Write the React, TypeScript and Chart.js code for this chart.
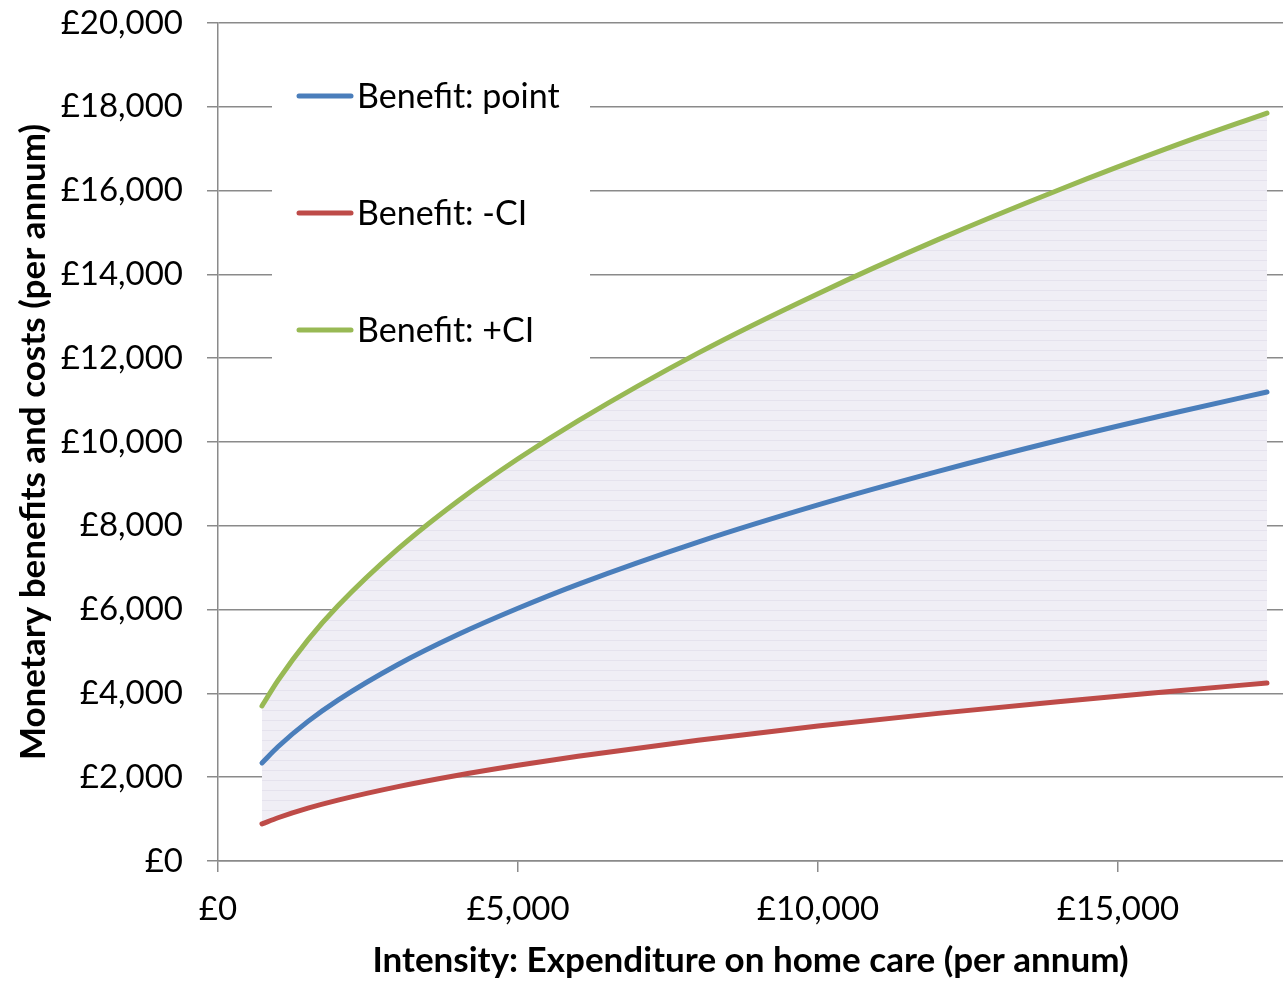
import React, { useEffect, useRef } from "react";
import { Chart, registerables } from "chart.js";

Chart.register(...registerables);

const expenditure = [733, 1000, 1500, 2000, 3000, 4000, 5000, 6000, 8000, 10000, 12000, 14000, 16000, 17483];
const benefitPoint = [2340, 2727, 3332, 3841, 4691, 5406, 6033, 6604, 7612, 8499, 9299, 10036, 10717, 11193];
const benefitLowCI = [885, 1032, 1261, 1453, 1775, 2047, 2285, 2501, 2883, 3220, 3523, 3803, 4061, 4250];
const benefitHighCI = [3700, 4310, 5278, 6090, 7447, 8592, 9600, 10506, 12122, 13540, 14829, 16009, 17101, 17850];

const xTickValues = [0, 5000, 10000, 15000];
const yTickValues = [0, 2000, 4000, 6000, 8000, 10000, 12000, 14000, 16000, 18000, 20000];

const seriesLabels = ["Benefit: point", "Benefit: -CI", "Benefit: +CI"];
const seriesColors = ["#4a7ebb", "#be4b48", "#98b954"];

const xTitle = "Intensity: Expenditure on home care (per annum)";
const yTitle = "Monetary benefits and costs (per annum)";

const FONT = "Lato, 'Open Sans', sans-serif";

const legendPlugin = {
  id: "insideLegend",
  afterDatasetsDraw(chart: any) {
    const ctx = chart.ctx;
    ctx.save();
    ctx.fillStyle = "#ffffff";
    ctx.fillRect(272, 52, 318, 313);
    const rows = [96, 213, 330];
    chart.data.datasets.forEach((ds: any, i: number) => {
      const y = rows[i];
      ctx.strokeStyle = ds.borderColor;
      ctx.lineWidth = 5;
      ctx.lineCap = "round";
      ctx.beginPath();
      ctx.moveTo(299, y);
      ctx.lineTo(351, y);
      ctx.stroke();
      ctx.fillStyle = "#000000";
      ctx.font = `34px ${FONT}`;
      ctx.textBaseline = "middle";
      ctx.textAlign = "left";
      ctx.fillText(ds.label, 357, y + 1);
    });
    ctx.restore();
  },
};

function makePattern(): CanvasPattern | string {
  const c = document.createElement("canvas");
  c.width = 8;
  c.height = 10;
  const g = c.getContext("2d");
  if (!g) return "rgba(230,226,240,0.6)";
  g.fillStyle = "#f0eef5";
  g.fillRect(0, 0, 8, 10);
  g.fillStyle = "#e5e2ed";
  g.fillRect(0, 0, 8, 1);
  return g.createPattern(c, "repeat") || "#efedf4";
}

const money = (v: any) => "£" + Number(v).toLocaleString("en-GB");

export default function App() {
  const ref = useRef<HTMLCanvasElement | null>(null);

  useEffect(() => {
    if (!ref.current) return;
    const pattern = makePattern();
    const mk = (vals: number[]) => expenditure.map((x, i) => ({ x, y: vals[i] }));
    const gridColor = "#8a8a8a";
    const lineDs = (i: number, vals: number[], extra: any) => ({
      label: seriesLabels[i],
      data: mk(vals),
      borderColor: seriesColors[i],
      backgroundColor: seriesColors[i],
      borderWidth: 5,
      pointRadius: 0,
      cubicInterpolationMode: "monotone",
      borderCapStyle: "round",
      fill: false,
      ...extra,
    });
    const chart = new Chart(ref.current, {
      type: "line",
      data: {
        datasets: [
          lineDs(0, benefitPoint, { order: 0 }),
          lineDs(1, benefitLowCI, { order: 1 }),
          lineDs(2, benefitHighCI, { order: 2, fill: 1, backgroundColor: pattern }),
        ] as any,
      },
      options: {
        animation: false,
        responsive: true,
        maintainAspectRatio: false,
        layout: { padding: { top: 23, right: 0, bottom: 0, left: 0 } },
        plugins: {
          legend: { display: false },
          tooltip: { enabled: false },
          filler: { propagate: false },
        },
        scales: {
          x: {
            type: "linear",
            min: 0,
            max: 17750,
            afterBuildTicks: (scale: any) => {
              scale.ticks = xTickValues.map((v) => ({ value: v }));
            },
            afterFit: (scale: any) => {
              scale.height = 123;
              scale.paddingLeft = 0;
              scale.paddingRight = 0;
            },
            ticks: {
              padding: 18,
              color: "#000",
              font: { family: FONT, size: 33 },
              maxRotation: 0,
              autoSkip: false,
              callback: money,
            },
            grid: {
              drawOnChartArea: false,
              drawTicks: true,
              tickLength: 11,
              color: gridColor,
              lineWidth: 1.5,
            },
            border: { display: true, color: gridColor, width: 1.5 },
            title: {
              display: true,
              text: xTitle,
              color: "#000",
              font: { family: FONT, size: 35, weight: "bold" },
              padding: { top: 0, bottom: 2 },
            },
          },
          y: {
            type: "linear",
            min: 0,
            max: 20000,
            afterBuildTicks: (scale: any) => {
              scale.ticks = yTickValues.map((v) => ({ value: v }));
            },
            afterFit: (scale: any) => {
              scale.width = 218;
              scale.paddingTop = 0;
              scale.paddingBottom = 0;
            },
            ticks: {
              padding: 24,
              color: "#000",
              font: { family: FONT, size: 33 },
              autoSkip: false,
              callback: money,
            },
            grid: {
              drawOnChartArea: true,
              drawTicks: true,
              tickLength: 11,
              color: gridColor,
              lineWidth: 1.5,
            },
            border: { display: true, color: gridColor, width: 1.5 },
            title: {
              display: true,
              text: yTitle,
              color: "#000",
              font: { family: FONT, size: 35, weight: "bold" },
              padding: { top: 13, bottom: 0 },
            },
          },
        },
      },
      plugins: [legendPlugin],
    });
    return () => chart.destroy();
  }, []);

  return (
    <div style={{ position: "absolute", left: 0, top: 0, width: 1283, height: 984, background: "#fff" }}>
      <canvas ref={ref} />
    </div>
  );
}
